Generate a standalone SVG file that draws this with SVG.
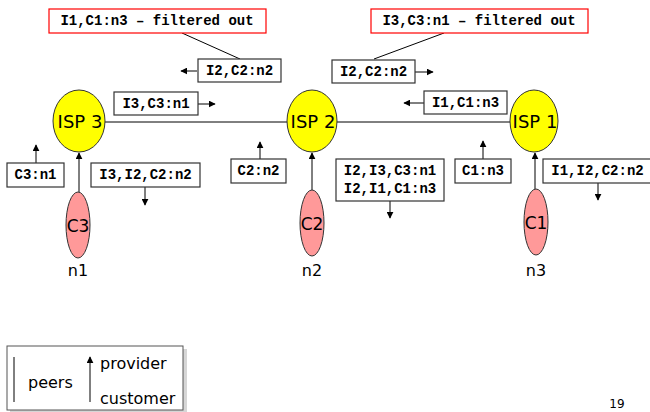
<svg xmlns="http://www.w3.org/2000/svg" width="650" height="412" viewBox="0 0 650 412">
<defs>
<marker id="ah" viewBox="0 0 10 10" refX="9" refY="5" markerWidth="7" markerHeight="7" markerUnits="userSpaceOnUse" orient="auto">
<path d="M0,0 L10,5 L0,10 z" fill="#000"/>
</marker>
<style>
.box{fill:#fff;stroke:#333;stroke-width:1.2}
.red{fill:#fff;stroke:#f00;stroke-width:1.2}
.mono{font-family:"Liberation Mono","Courier New",monospace;font-weight:bold;font-size:14px;fill:#000}
.sans{font-family:"DejaVu Sans",Verdana,sans-serif;font-size:16px;fill:#000}
.big{font-size:18px}
.mid{font-size:17px}
.small{font-size:12px}
.isp{fill:#ff0;stroke:#333;stroke-width:1}
.cust{fill:#f99;stroke:#333;stroke-width:1}
.ln{stroke:#000;stroke-width:1;fill:none}
.arr{stroke:#000;stroke-width:1;fill:none;marker-end:url(#ah)}
</style>
</defs>
<rect width="650" height="412" fill="#fff"/>
<g id="connectors">
<line class="ln" x1="105" y1="122" x2="287" y2="122"/>
<line class="ln" x1="337" y1="122" x2="510" y2="122"/>
<line class="arr" x1="79" y1="192" x2="79" y2="153"/>
<line class="arr" x1="312" y1="190" x2="312" y2="153"/>
<line class="arr" x1="535" y1="189" x2="535" y2="153"/>
<line class="ln" x1="182" y1="33" x2="240" y2="59"/>
<line class="ln" x1="444" y1="33" x2="374" y2="59"/>
<line class="arr" x1="197" y1="71" x2="181" y2="71"/>
<line class="arr" x1="198" y1="104" x2="215" y2="104"/>
<line class="arr" x1="415" y1="72" x2="433" y2="72"/>
<line class="arr" x1="424" y1="103" x2="404" y2="103"/>
<line class="arr" x1="36" y1="163" x2="36" y2="145"/>
<line class="arr" x1="145" y1="187" x2="145" y2="205"/>
<line class="arr" x1="260" y1="159" x2="260" y2="142"/>
<line class="arr" x1="390" y1="201" x2="390" y2="218"/>
<line class="arr" x1="483" y1="159" x2="483" y2="141"/>
<line class="arr" x1="598" y1="183" x2="598" y2="200"/>
</g>
<g id="isp3"><ellipse class="isp" cx="79" cy="121" rx="26" ry="31"/><text class="sans big" x="80" y="128" text-anchor="middle">ISP 3</text></g>
<g id="isp2"><ellipse class="isp" cx="312" cy="121" rx="25" ry="31"/><text class="sans big" x="313" y="128" text-anchor="middle">ISP 2</text></g>
<g id="isp1"><ellipse class="isp" cx="534" cy="121" rx="24" ry="31"/><text class="sans big" x="535" y="128" text-anchor="middle">ISP 1</text></g>
<g id="c3"><ellipse class="cust" cx="78" cy="225" rx="12" ry="33"/><text class="sans mid" x="78" y="232" text-anchor="middle">C3</text></g>
<g id="c2"><ellipse class="cust" cx="312" cy="223" rx="12" ry="33"/><text class="sans mid" x="312" y="230" text-anchor="middle">C2</text></g>
<g id="c1"><ellipse class="cust" cx="536" cy="222" rx="12" ry="33"/><text class="sans mid" x="536" y="229" text-anchor="middle">C1</text></g>
<g id="n1"><text class="sans" x="78" y="276" text-anchor="middle">n1</text></g>
<g id="n2"><text class="sans" x="312" y="276" text-anchor="middle">n2</text></g>
<g id="n3"><text class="sans" x="536" y="276" text-anchor="middle">n3</text></g>
<g id="filter1"><rect class="red" x="49" y="9" width="217" height="24"/><text class="mono" x="157" y="25" text-anchor="middle">I1,C1:n3 – filtered out</text></g>
<g id="filter2"><rect class="red" x="371" y="9" width="217" height="24"/><text class="mono" x="479" y="25" text-anchor="middle">I3,C3:n1 – filtered out</text></g>
<g id="m1"><rect class="box" x="198" y="59" width="83" height="23"/><text class="mono" x="239.5" y="75" text-anchor="middle">I2,C2:n2</text></g>
<g id="m2"><rect class="box" x="332" y="60" width="83" height="23"/><text class="mono" x="373.5" y="76" text-anchor="middle">I2,C2:n2</text></g>
<g id="m3"><rect class="box" x="114" y="92" width="84" height="23"/><text class="mono" x="156" y="108" text-anchor="middle">I3,C3:n1</text></g>
<g id="m4"><rect class="box" x="424" y="91" width="83" height="23"/><text class="mono" x="465.5" y="107" text-anchor="middle">I1,C1:n3</text></g>
<g id="m5"><rect class="box" x="7" y="163" width="57" height="24"/><text class="mono" x="35.5" y="179" text-anchor="middle">C3:n1</text></g>
<g id="m6"><rect class="box" x="91" y="163" width="109" height="24"/><text class="mono" x="145.5" y="179" text-anchor="middle">I3,I2,C2:n2</text></g>
<g id="m7"><rect class="box" x="231" y="159" width="55" height="24"/><text class="mono" x="258.5" y="175" text-anchor="middle">C2:n2</text></g>
<g id="m8"><rect class="box" x="336" y="159" width="108" height="42"/><text class="mono" x="390" y="175" text-anchor="middle">I2,I3,C3:n1</text><text class="mono" x="390" y="193" text-anchor="middle">I2,I1,C1:n3</text></g>
<g id="m9"><rect class="box" x="455" y="159" width="56" height="24"/><text class="mono" x="483" y="175" text-anchor="middle">C1:n3</text></g>
<g id="m10"><rect class="box" x="543" y="159" width="109" height="24"/><text class="mono" x="597.5" y="175" text-anchor="middle">I1,I2,C2:n2</text></g>
<g id="legend">
<rect x="10" y="349" width="177" height="64" fill="#bbb" opacity="0.6"/>
<rect x="7" y="346" width="176" height="64" fill="#fff" stroke="#555" stroke-width="1"/>
<line class="ln" x1="14" y1="357" x2="14" y2="402"/>
<text class="sans" x="28" y="388">peers</text>
<line class="arr" x1="90" y1="402" x2="90" y2="357"/>
<text class="sans" x="100" y="369">provider</text>
<text class="sans" x="100" y="404">customer</text>
</g>
<text class="sans small" x="617" y="408" text-anchor="middle">19</text>
</svg>
